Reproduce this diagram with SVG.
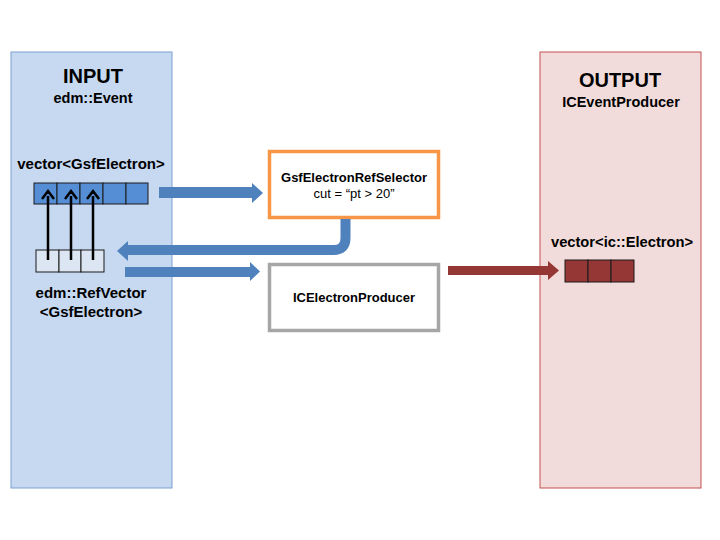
<svg xmlns="http://www.w3.org/2000/svg" width="720" height="540" viewBox="0 0 720 540">
<defs>
<style>
text{font-family:"Liberation Sans",Arial,sans-serif;text-anchor:middle;fill:#000}
.b{font-weight:bold}
.cellB{fill:#558ed5;stroke:#1a1a1a;stroke-width:1}
.cellL{fill:#dce6f2;stroke:#1a1a1a;stroke-width:1}
.cellR{fill:#953735;stroke:#1a1a1a;stroke-width:1}
.blue{fill:#4f81bd}
</style>
</defs>
<rect width="720" height="540" fill="#fff"/>
<g id="input">
<rect x="11" y="52" width="161" height="436" fill="#c6d9f1" stroke="#7a9fd0" stroke-width="1"/>
<text x="93" y="83" class="b" font-size="20">INPUT</text>
<text x="93" y="103" class="b" font-size="14.5">edm::Event</text>
<text x="91" y="169" class="b" font-size="15">vector&lt;GsfElectron&gt;</text>
<text x="91" y="298" class="b" font-size="15">edm::RefVector</text>
<text x="91" y="317" class="b" font-size="15">&lt;GsfElectron&gt;</text>
</g>
<g id="gsf-vector">
<rect class="cellB" x="34" y="183" width="23" height="21"/>
<rect class="cellB" x="57" y="183" width="23" height="21"/>
<rect class="cellB" x="80" y="183" width="23" height="21"/>
<rect class="cellB" x="103" y="183" width="23" height="21"/>
<rect class="cellB" x="126" y="183" width="22" height="21"/>
</g>
<g id="ref-vector">
<rect class="cellL" x="36" y="250" width="23" height="22"/>
<rect class="cellL" x="59" y="250" width="22" height="22"/>
<rect class="cellL" x="81" y="250" width="23" height="22"/>
</g>
<g id="output">
<rect x="540" y="52" width="161" height="436" fill="#f2dcdb" stroke="#c0504d" stroke-width="1"/>
<text x="620" y="87" class="b" font-size="20">OUTPUT</text>
<text x="621" y="107" class="b" font-size="14.5">ICEventProducer</text>
<text x="622" y="247" class="b" font-size="14.7">vector&lt;ic::Electron&gt;</text>
</g>
<g id="ic-vector">
<rect class="cellR" x="565" y="260" width="23" height="22"/>
<rect class="cellR" x="588" y="260" width="23" height="22"/>
<rect class="cellR" x="611" y="260" width="23" height="22"/>
</g>
<g id="selector">
<rect x="269.5" y="151.5" width="169" height="66" fill="#fff" stroke="#f79646" stroke-width="3.5"/>
<text x="354" y="182" class="b" font-size="13">GsfElectronRefSelector</text>
<text x="354" y="198" font-size="13">cut = “pt &gt; 20”</text>
</g>
<g id="producer">
<rect x="269.5" y="264.5" width="169" height="66" fill="#fff" stroke="#a6a6a6" stroke-width="3.5"/>
<text x="354" y="302" class="b" font-size="13">ICElectronProducer</text>
</g>
<g id="connectors">
<path d="M48 260V196M71 260V196M93 260V196" stroke="#000" stroke-width="2.5" fill="none"/>
<path d="M42 199L48 191L54 199M65 199L71 191L77 199M87 199L93 191L99 199" stroke="#000" stroke-width="2.5" fill="none"/>
<path class="blue" d="M159 187H252V183L263 193L252 203V198H159Z"/>
<path d="M345.5 219V238Q345.5 250 333.5 250H125" stroke="#4f81bd" stroke-width="10" fill="none"/>
<path class="blue" d="M128 241L117 251L128 261Z"/>
<path class="blue" d="M125 267H250V262L260 271.5L250 281V277H125Z"/>
<path fill="#953735" d="M448 266H548V261L559 270.5L548 280V275H448Z"/>
</g>
</svg>
